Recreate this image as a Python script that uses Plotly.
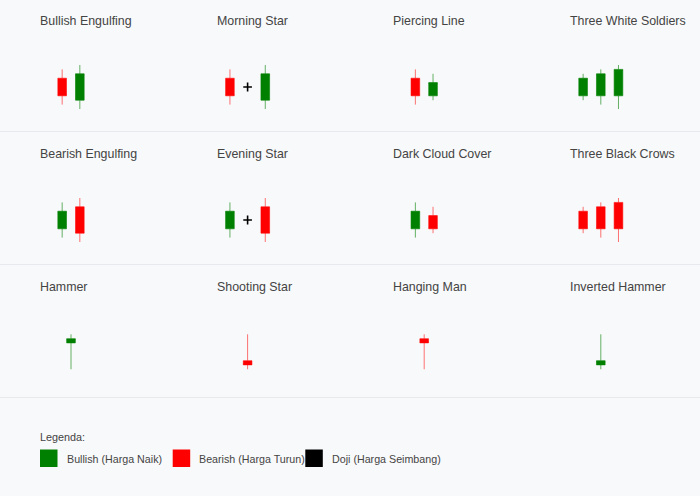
import plotly.graph_objects as go

# ---------------- data ----------------
patterns = [
    "Bullish Engulfing", "Morning Star", "Piercing Line", "Three White Soldiers",
    "Bearish Engulfing", "Evening Star", "Dark Cloud Cover", "Three Black Crows",
    "Hammer", "Shooting Star", "Hanging Man", "Inverted Hammer",
]
pattern_open = [
    [7, 2], [7, 5, 2], [7, 3], [3, 3, 3],
    [3, 8], [3, 5, 8], [3, 6], [7, 8, 9],
    [7.3], [3.25], [8.25], [2.3],
]
pattern_high = [
    [9, 10], [9, 6, 10], [9, 8], [8, 9, 10],
    [9, 10], [9, 6, 10], [9, 8], [8, 9, 10],
    [9.25], [9.25], [9.25], [9.25],
]
pattern_low = [
    [1, 0], [1, 4, 0], [1, 2], [2, 1, 0],
    [1, 0], [1, 4, 0], [1, 2], [2, 1, 0],
    [1.3], [1.3], [1.3], [1.3],
]
pattern_close = [
    [3, 8], [3, 5, 8], [3, 6], [7, 8, 9],
    [7, 2], [7, 5, 2], [7, 3], [3, 3, 3],
    [8.25], [2.3], [7.3], [3.25],
]
legend_title = "Legenda:"
legend_labels = ["Bullish (Harga Naik)", "Bearish (Harga Turun)", "Doji (Harga Seimbang)"]

# ---------------- style ----------------
GREEN = "#008000"
RED = "#ff0000"
BLACK = "#000000"
GREEN_LINE = "rgba(0,128,0,0.6)"
RED_LINE = "rgba(255,0,0,0.55)"
legend_colors = [GREEN, RED, BLACK]
BG = "#f8f9fa"
TEXT = "#444444"
FONT = "Liberation Sans, Arial, sans-serif"

W, H = 700, 496
COL_PITCH = 176.6
ROW_PITCH = 133
X_UNIT = 17.67   # px per candle step
Y_UNIT = 4.4     # px per price unit


def px_x(p):
    return p / W


def px_y(p):
    return 1 - p / H


fig = go.Figure()
annotations = []
shapes = []

for i, name in enumerate(patterns):
    r, c = divmod(i, 4)
    n = len(pattern_open[i])
    sfx = "" if i == 0 else str(i + 1)
    o, h, l, cl = pattern_open[i], pattern_high[i], pattern_low[i], pattern_close[i]
    normal = [k for k in range(n) if o[k] != cl[k]]
    doji = [k for k in range(n) if o[k] == cl[k]]
    if normal:
        fig.add_trace(go.Candlestick(
            x=[k for k in normal], open=[o[k] for k in normal], high=[h[k] for k in normal],
            low=[l[k] for k in normal], close=[cl[k] for k in normal],
            xaxis="x" + sfx, yaxis="y" + sfx, showlegend=False, hoverinfo="skip",
            increasing=dict(line=dict(color=GREEN_LINE, width=1), fillcolor=GREEN),
            decreasing=dict(line=dict(color=RED_LINE, width=1), fillcolor=RED),
        ))
    if doji:
        fig.add_trace(go.Candlestick(
            x=[k for k in doji], open=[o[k] for k in doji], high=[h[k] for k in doji],
            low=[l[k] for k in doji], close=[cl[k] for k in doji],
            xaxis="x" + sfx, yaxis="y" + sfx, showlegend=False, hoverinfo="skip",
            increasing=dict(line=dict(color=BLACK, width=1.6), fillcolor=BLACK),
            decreasing=dict(line=dict(color=BLACK, width=1.6), fillcolor=BLACK),
        ))

    cx = 71 + COL_PITCH * c
    half_w = 70
    mid = (n - 1) / 2
    y_top = 55 + ROW_PITCH * r
    y_bot = 119 + ROW_PITCH * r
    lvl0 = 109 + ROW_PITCH * r
    fig.layout["xaxis" + sfx] = dict(
        domain=[px_x(cx - half_w), px_x(cx + half_w)],
        range=[mid - half_w / X_UNIT, mid + half_w / X_UNIT],
        visible=False, rangeslider=dict(visible=False), anchor="y" + sfx, fixedrange=True,
    )
    fig.layout["yaxis" + sfx] = dict(
        domain=[px_y(y_bot), px_y(y_top)],
        range=[(lvl0 - y_bot) / Y_UNIT, (lvl0 - y_top) / Y_UNIT],
        visible=False, anchor="x" + sfx, fixedrange=True,
    )
    annotations.append(dict(
        text=name, x=px_x(38 + COL_PITCH * c), y=px_y(20.5 + ROW_PITCH * r),
        xref="paper", yref="paper", xanchor="left", yanchor="middle", showarrow=False,
        font=dict(size=12.4, color=TEXT, family=FONT),
    ))

# row separators
for yy in [131.5, 264.5, 397.5]:
    shapes.append(dict(type="line", xref="paper", yref="paper", x0=0, x1=1,
                       y0=px_y(yy), y1=px_y(yy), line=dict(color="#e7e9ec", width=1)))

# legend
annotations.append(dict(
    text=legend_title, x=px_x(38), y=px_y(437), xref="paper", yref="paper",
    xanchor="left", yanchor="middle", showarrow=False, font=dict(size=10.8, color=TEXT, family=FONT),
))
sq_x = [40, 172.7, 305.3]
for k, lab in enumerate(legend_labels):
    shapes.append(dict(type="rect", xref="paper", yref="paper",
                       x0=px_x(sq_x[k]), x1=px_x(sq_x[k] + 17.5), y0=px_y(467), y1=px_y(449.5),
                       fillcolor=legend_colors[k], line=dict(width=0)))
    annotations.append(dict(
        text=lab, x=px_x(sq_x[k] + 24.7), y=px_y(458.5), xref="paper", yref="paper",
        xanchor="left", yanchor="middle", showarrow=False, font=dict(size=10.7, color=TEXT, family=FONT),
    ))

fig.update_layout(
    width=W, height=H, margin=dict(l=0, r=0, t=0, b=0),
    paper_bgcolor=BG, plot_bgcolor=BG, hovermode=False,
    annotations=annotations, shapes=shapes, showlegend=False,
)

fig.write_html(
    "out.html",
    config={"displayModeBar": False},
    post_script="document.body.style.margin='0';document.body.style.background='#f8f9fa';",
)
